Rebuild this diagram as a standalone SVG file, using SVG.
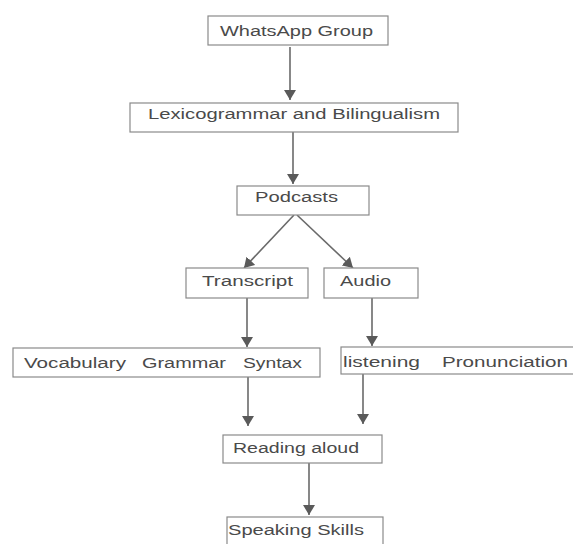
<svg xmlns="http://www.w3.org/2000/svg" width="573" height="544" viewBox="0 0 573 544">
<defs>
<style>
.box{fill:#fff;stroke:#8a8a8a;stroke-width:1.2}
.t{font-family:"Liberation Sans",Arial,sans-serif;font-size:14px;fill:#4a4a4a}
.c{stroke:#6a6a6a;stroke-width:1.6;fill:none;marker-end:url(#ah)}
</style>
<marker id="ah" markerUnits="userSpaceOnUse" markerWidth="12" markerHeight="12" refX="10" refY="6" orient="auto">
<path d="M0,0 L10,6 L0,12 z" fill="#5a5a5a"/>
</marker>
</defs>
<rect width="573" height="544" fill="#fff"/>
<g id="connectors">
<line class="c" x1="290" y1="47" x2="290" y2="100"/>
<line class="c" x1="293" y1="132" x2="293" y2="184"/>
<line class="c" x1="294" y1="215" x2="244" y2="268"/>
<line class="c" x1="297" y1="215" x2="353" y2="268"/>
<line class="c" x1="247" y1="298" x2="247" y2="347"/>
<line class="c" x1="372" y1="298" x2="372" y2="346"/>
<line class="c" x1="248" y1="377" x2="248" y2="426"/>
<line class="c" x1="363" y1="374" x2="363" y2="424"/>
<line class="c" x1="309" y1="463" x2="309" y2="515"/>
</g>
<g id="whatsapp"><rect class="box" x="208" y="16" width="180" height="29"/><text class="t" x="220" y="36" textLength="153" lengthAdjust="spacingAndGlyphs">WhatsApp Group</text></g>
<g id="lexico"><rect class="box" x="130" y="103" width="328" height="29"/><text class="t" x="148" y="119" textLength="292" lengthAdjust="spacingAndGlyphs">Lexicogrammar and Bilingualism</text></g>
<g id="podcasts"><rect class="box" x="237" y="186" width="132" height="29"/><text class="t" x="255" y="202" textLength="83" lengthAdjust="spacingAndGlyphs">Podcasts</text></g>
<g id="transcript"><rect class="box" x="186" y="268" width="122" height="30"/><text class="t" x="202" y="286" textLength="91" lengthAdjust="spacingAndGlyphs">Transcript</text></g>
<g id="audio"><rect class="box" x="324" y="268" width="94" height="30"/><text class="t" x="340" y="286" textLength="51" lengthAdjust="spacingAndGlyphs">Audio</text></g>
<g id="vocab"><rect class="box" x="13" y="348" width="307" height="29"/><text class="t" x="24" y="368" textLength="102" lengthAdjust="spacingAndGlyphs">Vocabulary</text><text class="t" x="142" y="368" textLength="84" lengthAdjust="spacingAndGlyphs">Grammar</text><text class="t" x="243" y="368" textLength="59" lengthAdjust="spacingAndGlyphs">Syntax</text></g>
<g id="listening"><rect class="box" x="341" y="347" width="234" height="27"/><text class="t" x="343" y="367" textLength="77" lengthAdjust="spacingAndGlyphs">listening</text><text class="t" x="442" y="367" textLength="126" lengthAdjust="spacingAndGlyphs">Pronunciation</text></g>
<g id="reading"><rect class="box" x="223" y="435" width="159" height="28"/><text class="t" x="233" y="453" textLength="126" lengthAdjust="spacingAndGlyphs">Reading aloud</text></g>
<g id="speaking"><rect class="box" x="227" y="517" width="156" height="40"/><text class="t" x="228" y="535" textLength="136" lengthAdjust="spacingAndGlyphs">Speaking Skills</text></g>
</svg>
